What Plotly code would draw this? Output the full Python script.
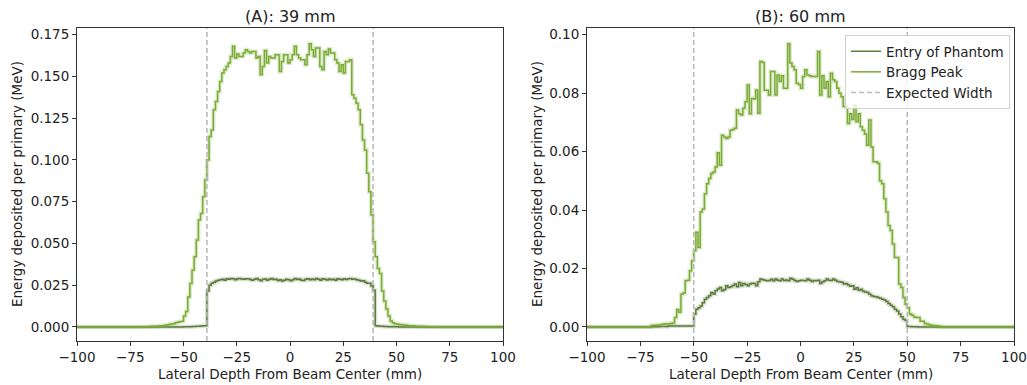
import plotly.graph_objects as go

# ---------------- data (1 mm bins, values = energy per bin, MeV) ----------------
# Panel A (39 mm): bins start at -70 mm
a_start = -70
bragg_a = [0.0001, 0.0001, 0.0002, 0.0002, 0.0003, 0.0004, 0.0004, 0.0005, 0.0006, 0.0007,
           0.0008, 0.0010, 0.0012, 0.0015, 0.0018, 0.0020, 0.0025, 0.0028, 0.0032, 0.0034,
           0.0066, 0.0092, 0.0180, 0.0260, 0.0340, 0.0420, 0.0520, 0.0640, 0.0680, 0.0780,
           0.0880, 0.1000, 0.1140, 0.1180, 0.1300, 0.1350, 0.1410, 0.1470, 0.1520, 0.1540,
           0.1560, 0.1580, 0.1620, 0.1680, 0.1610, 0.1635, 0.1620, 0.1620, 0.1640, 0.1660,
           0.1650, 0.1640, 0.1650, 0.1650, 0.1610, 0.1620, 0.1510, 0.1560, 0.1655, 0.1580,
           0.1620, 0.1610, 0.1610, 0.1630, 0.1630, 0.1530, 0.1590, 0.1630, 0.1630, 0.1580,
           0.1600, 0.1630, 0.1680, 0.1630, 0.1610, 0.1600, 0.1600, 0.1570, 0.1630, 0.1695,
           0.1660, 0.1620, 0.1670, 0.1670, 0.1560, 0.1540, 0.1650, 0.1630, 0.1665, 0.1640,
           0.1640, 0.1600, 0.1580, 0.1530, 0.1570, 0.1520, 0.1590, 0.1590, 0.1600, 0.1390,
           0.1370, 0.1340, 0.1300, 0.1210, 0.1120, 0.1060, 0.0920, 0.0810, 0.0670, 0.0510,
           0.0420, 0.0350, 0.0320, 0.0216, 0.0156, 0.0108, 0.0066, 0.0036, 0.0025, 0.0020,
           0.0018, 0.0015, 0.0013, 0.0012, 0.0010, 0.0009, 0.0008, 0.0007, 0.0006, 0.0005,
           0.0005, 0.0004, 0.0003, 0.0003, 0.0002, 0.0002, 0.0002, 0.0001, 0.0001, 0.0001]
entry_a = [0.0000, 0.0000, 0.0000, 0.0000, 0.0000, 0.0000, 0.0000, 0.0000, 0.0000, 0.0000,
           0.0000, 0.0000, 0.0000, 0.0000, 0.0000, 0.0000, 0.0000, 0.0000, 0.0000, 0.0000,
           0.0001, 0.0001, 0.0002, 0.0002, 0.0003, 0.0003, 0.0004, 0.0005, 0.0006, 0.0008,
           0.0008, 0.0216, 0.0250, 0.0262, 0.0268, 0.0275, 0.0280, 0.0282, 0.0285, 0.0280,
           0.0288, 0.0285, 0.0290, 0.0288, 0.0283, 0.0288, 0.0290, 0.0287, 0.0286, 0.0289,
           0.0288, 0.0284, 0.0280, 0.0286, 0.0290, 0.0283, 0.0276, 0.0285, 0.0287, 0.0280,
           0.0286, 0.0290, 0.0284, 0.0286, 0.0278, 0.0282, 0.0275, 0.0280, 0.0286, 0.0283,
           0.0277, 0.0282, 0.0290, 0.0284, 0.0287, 0.0280, 0.0278, 0.0285, 0.0289, 0.0282,
           0.0287, 0.0283, 0.0290, 0.0286, 0.0280, 0.0288, 0.0285, 0.0281, 0.0287, 0.0283,
           0.0286, 0.0280, 0.0289, 0.0285, 0.0282, 0.0288, 0.0284, 0.0288, 0.0290, 0.0285,
           0.0287, 0.0283, 0.0280, 0.0275, 0.0277, 0.0268, 0.0262, 0.0262, 0.0245, 0.0220,
           0.0008, 0.0006, 0.0005, 0.0004, 0.0003, 0.0003, 0.0002, 0.0002, 0.0001, 0.0001,
           0.0001, 0.0000, 0.0000, 0.0000, 0.0000, 0.0000, 0.0000, 0.0000, 0.0000, 0.0000,
           0.0000, 0.0000, 0.0000, 0.0000, 0.0000, 0.0000, 0.0000, 0.0000, 0.0000, 0.0000]
width_a = [-39, 39]

# Panel B (60 mm): bins start at -70 mm
b_start = -70
bragg_b = [0.0005, 0.0006, 0.0006, 0.0007, 0.0008, 0.0009, 0.0010, 0.0011, 0.0011, 0.0012,
           0.0014, 0.0032, 0.0060, 0.0050, 0.0112, 0.0116, 0.0158, 0.0160, 0.0192, 0.0227,
           0.0261, 0.0324, 0.0272, 0.0393, 0.0404, 0.0456, 0.0490, 0.0508, 0.0525, 0.0530,
           0.0547, 0.0596, 0.0553, 0.0656, 0.0650, 0.0645, 0.0650, 0.0673, 0.0676, 0.0680,
           0.0742, 0.0730, 0.0725, 0.0748, 0.0771, 0.0828, 0.0730, 0.0782, 0.0780, 0.0811,
           0.0731, 0.0908, 0.0905, 0.0810, 0.0810, 0.0794, 0.0874, 0.0874, 0.0794, 0.0862,
           0.0840, 0.0860, 0.0817, 0.0817, 0.0969, 0.0903, 0.0891, 0.0880, 0.0834, 0.0830,
           0.0817, 0.0857, 0.0880, 0.0862, 0.0860, 0.0857, 0.0857, 0.0857, 0.0943, 0.0794,
           0.0860, 0.0817, 0.0840, 0.0788, 0.0868, 0.0846, 0.0840, 0.0817, 0.0800, 0.0788,
           0.0754, 0.0754, 0.0696, 0.0730, 0.0710, 0.0759, 0.0702, 0.0730, 0.0685, 0.0673,
           0.0660, 0.0622, 0.0708, 0.0616, 0.0565, 0.0565, 0.0560, 0.0500, 0.0490, 0.0439,
           0.0393, 0.0347, 0.0330, 0.0284, 0.0238, 0.0238, 0.0147, 0.0135, 0.0101, 0.0078,
           0.0066, 0.0044, 0.0040, 0.0034, 0.0032, 0.0032, 0.0020, 0.0020, 0.0012, 0.0010,
           0.0008, 0.0006, 0.0005, 0.0004, 0.0003, 0.0002, 0.0001, 0.0000, 0.0000, 0.0000]
entry_b = [0.0001, 0.0001, 0.0001, 0.0001, 0.0002, 0.0002, 0.0002, 0.0002, 0.0003, 0.0003,
           0.0003, 0.0003, 0.0003, 0.0003, 0.0003, 0.0003, 0.0003, 0.0003, 0.0003, 0.0003,
           0.0044, 0.0061, 0.0066, 0.0072, 0.0083, 0.0095, 0.0101, 0.0107, 0.0118, 0.0113,
           0.0124, 0.0130, 0.0135, 0.0124, 0.0128, 0.0141, 0.0135, 0.0138, 0.0142, 0.0147,
           0.0138, 0.0152, 0.0141, 0.0149, 0.0145, 0.0141, 0.0147, 0.0150, 0.0149, 0.0141,
           0.0155, 0.0164, 0.0162, 0.0160, 0.0158, 0.0159, 0.0163, 0.0158, 0.0164, 0.0160,
           0.0158, 0.0164, 0.0159, 0.0161, 0.0158, 0.0167, 0.0163, 0.0159, 0.0156, 0.0158,
           0.0160, 0.0159, 0.0158, 0.0164, 0.0160, 0.0156, 0.0159, 0.0158, 0.0160, 0.0149,
           0.0155, 0.0158, 0.0164, 0.0160, 0.0159, 0.0164, 0.0160, 0.0156, 0.0155, 0.0153,
           0.0147, 0.0149, 0.0144, 0.0139, 0.0141, 0.0129, 0.0134, 0.0126, 0.0129, 0.0122,
           0.0120, 0.0118, 0.0112, 0.0107, 0.0104, 0.0103, 0.0101, 0.0098, 0.0095, 0.0092,
           0.0087, 0.0080, 0.0074, 0.0069, 0.0061, 0.0055, 0.0044, 0.0035, 0.0026, 0.0022,
           0.0002, 0.0002, 0.0001, 0.0001, 0.0001, 0.0000, 0.0000, 0.0000, 0.0000, 0.0000,
           0.0000, 0.0000, 0.0000, 0.0000, 0.0000, 0.0000, 0.0000, 0.0000, 0.0000, 0.0000]
width_b = [-50, 50]

titles = ["(A): 39 mm", "(B): 60 mm"]
x_range = [-100, 100]
x_ticks = [-100, -75, -50, -25, 0, 25, 50, 75, 100]
y_ticks_a = [0.0, 0.025, 0.05, 0.075, 0.1, 0.125, 0.15, 0.175]
y_ticks_b = [0.0, 0.02, 0.04, 0.06, 0.08, 0.10]

# ---------------- styling ----------------
W, H = 1027, 385
C_ENTRY = "#5a7a3a"
C_BRAGG = "#7aab35"
C_DASH = "#b8b8b8"
FONT = "DejaVu Sans"
FS = 13.5
AX_A = [77, 503]
AX_B = [587, 1014]
AX_TOP, AX_BOT = 28, 341


def step_xy(start, vals):
    n_left = start - x_range[0]
    full = [0.0] * n_left + list(vals)
    full = full + [0.0] * (x_range[1] - x_range[0] - len(full))
    xs = [x_range[0] + i for i in range(len(full) + 1)]
    ys = full + [full[-1]]
    return xs, ys


def px_x(p):
    return p / W


def px_y(p):
    return 1 - p / H


fig = go.Figure()

panels = [
    dict(start=a_start, entry=entry_a, bragg=bragg_a, width=width_a, xa="x", ya="y",
         yr=[-0.0084, 0.1790], legend=False),
    dict(start=b_start, entry=entry_b, bragg=bragg_b, width=width_b, xa="x2", ya="y2",
         yr=[-0.0048, 0.1023], legend=True),
]

for p in panels:
    for vals, col, name, halo in [(p["entry"], C_ENTRY, "Entry of Phantom", "rgba(90,122,58,0.22)"),
                                  (p["bragg"], C_BRAGG, "Bragg Peak", "rgba(122,171,53,0.25)")]:
        xs, ys = step_xy(p["start"], vals)
        fig.add_trace(go.Scatter(x=xs, y=ys, mode="lines", line=dict(color=halo, width=4, shape="hv"),
                                 xaxis=p["xa"], yaxis=p["ya"], showlegend=False, hoverinfo="skip"))
        fig.add_trace(go.Scatter(x=xs, y=ys, mode="lines", line=dict(color=col, width=1.5, shape="hv"),
                                 name=name, xaxis=p["xa"], yaxis=p["ya"], showlegend=p["legend"]))
    for i, wv in enumerate(p["width"]):
        fig.add_trace(go.Scatter(x=[wv, wv], y=[p["yr"][0], p["yr"][1]], mode="lines",
                                 line=dict(color=C_DASH, width=1.5, dash="5px,3px"),
                                 name="Expected Width", xaxis=p["xa"], yaxis=p["ya"],
                                 showlegend=(p["legend"] and i == 0)))

common_x = dict(range=x_range, tickvals=x_ticks, ticktext=[str(t).replace("-", "\u2212") for t in x_ticks],
                showline=True, mirror=True, linecolor="#333", linewidth=1, ticks="outside",
                ticklen=4, tickcolor="#333", showgrid=False, zeroline=False, automargin=False,
                ticklabeloverflow="allow",
                tickfont=dict(family=FONT, size=FS, color="#222"))
common_y = dict(showline=True, mirror=True, linecolor="#333", linewidth=1, ticks="outside",
                ticklen=4, tickcolor="#333", showgrid=False, zeroline=False, automargin=False,
                tickfont=dict(family=FONT, size=FS, color="#222"))

ydom = [px_y(AX_BOT), px_y(AX_TOP)]
fig.update_layout(
    width=W, height=H, margin=dict(l=0, r=0, t=0, b=0),
    paper_bgcolor="white", plot_bgcolor="white",
    xaxis=dict(domain=[px_x(AX_A[0]), px_x(AX_A[1])], anchor="y", **common_x),
    yaxis=dict(domain=ydom, anchor="x", range=panels[0]["yr"], tickvals=y_ticks_a,
               ticktext=[f"{v:.3f}" for v in y_ticks_a], **common_y),
    xaxis2=dict(domain=[px_x(AX_B[0]), px_x(AX_B[1])], anchor="y2", **common_x),
    yaxis2=dict(domain=ydom, anchor="x2", range=panels[1]["yr"], tickvals=y_ticks_b,
                ticktext=[f"{v:.2f}" for v in y_ticks_b], **common_y),
    showlegend=True,
    legend=dict(x=px_x(1010), y=px_y(35), xanchor="right", yanchor="top",
                bgcolor="rgba(255,255,255,0.8)", bordercolor="#d0d0d0", borderwidth=1,
                font=dict(family=FONT, size=FS, color="#222"), tracegroupgap=0,
                itemwidth=30),
    font=dict(family=FONT, color="#222"),
)

ann = []
for txt, ax in [(titles[0], AX_A), (titles[1], AX_B)]:
    ann.append(dict(text=txt, x=px_x(sum(ax) / 2), y=px_y(16), xref="paper", yref="paper",
                    showarrow=False, font=dict(family=FONT, size=16, color="#222"),
                    xanchor="center", yanchor="middle"))
for ax in [AX_A, AX_B]:
    ann.append(dict(text="Lateral Depth From Beam Center (mm)", x=px_x(sum(ax) / 2), y=px_y(374),
                    xref="paper", yref="paper", showarrow=False,
                    font=dict(family=FONT, size=FS, color="#222"), xanchor="center", yanchor="middle"))
for cx in [17, 537]:
    ann.append(dict(text="Energy deposited per primary (MeV)", x=px_x(cx), y=px_y(184),
                    xref="paper", yref="paper", showarrow=False, textangle=-90,
                    font=dict(family=FONT, size=FS, color="#222"), xanchor="center", yanchor="middle"))
fig.update_layout(annotations=ann)

fig.write_html("out.html")
